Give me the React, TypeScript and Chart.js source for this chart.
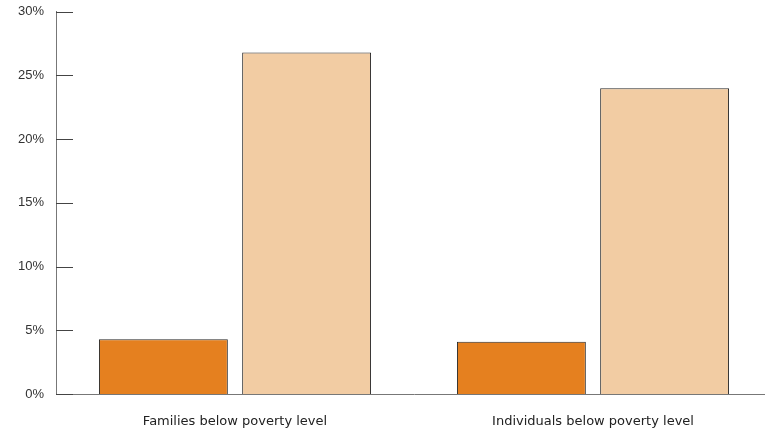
import React, { useEffect, useRef } from "react";
import { Chart, registerables } from "chart.js";

Chart.register(...registerables);

const categories = ["Families below poverty level", "Individuals below poverty level"];
const seriesA = [4.3, 4.1];
const seriesB = [26.8, 24.0];
const yTicks = [0, 5, 10, 15, 20, 25, 30];

const tickMarks = {
  id: "tickMarks",
  afterDraw(chart: any) {
    const y = chart.scales.y;
    const ctx = chart.ctx;
    const left = chart.chartArea.left;
    ctx.save();
    ctx.strokeStyle = "#444";
    ctx.lineWidth = 1;
    yTicks.forEach((v) => {
      const py = Math.round(y.getPixelForValue(v)) + 0.5;
      ctx.beginPath();
      ctx.moveTo(left, py);
      ctx.lineTo(left + 17, py);
      ctx.stroke();
    });
    ctx.restore();
  },
};

export default function App() {
  const ref = useRef<HTMLCanvasElement>(null);
  useEffect(() => {
    const chart = new Chart(ref.current!, {
      type: "bar",
      data: {
        labels: categories,
        datasets: [
          { data: seriesA, backgroundColor: "#E5801F", borderColor: "#2a2a2a", borderWidth: 1 },
          { data: seriesB, backgroundColor: "#F2CCA3", borderColor: "#2a2a2a", borderWidth: 1 },
        ],
      },
      options: {
        responsive: false,
        animation: false,
        layout: { padding: { top: 5, left: 0, right: 0, bottom: 0 } },
        plugins: { legend: { display: false }, tooltip: { enabled: false } },
        scales: {
          x: {
            grid: { display: false },
            border: { display: true, color: "#777", width: 1 },
            ticks: { color: "#222", font: { family: "DejaVu Sans", size: 13 }, padding: 12 },
            afterFit: (s: any) => { s.height = 38; },
          },
          y: {
            min: 0,
            max: 30,
            afterBuildTicks: (s: any) => { s.ticks = yTicks.map((v) => ({ value: v })); },
            grid: { display: false },
            border: { display: true, color: "#777", width: 1 },
            ticks: {
              color: "#333",
              font: { family: "Liberation Sans", size: 13 },
              padding: 4,
              callback: (v: any) => v + "%",
            },
            afterFit: (s: any) => { s.width = 56; },
          },
        },
      },
      plugins: [tickMarks],
    });
    return () => chart.destroy();
  }, []);
  return (
    <div style={{ position: "fixed", left: 0, top: 0, width: 765, height: 432, overflow: "hidden", background: "#fff" }}>
      <canvas ref={ref} width={772} height={432} style={{ display: "block" }} />
    </div>
  );
}
